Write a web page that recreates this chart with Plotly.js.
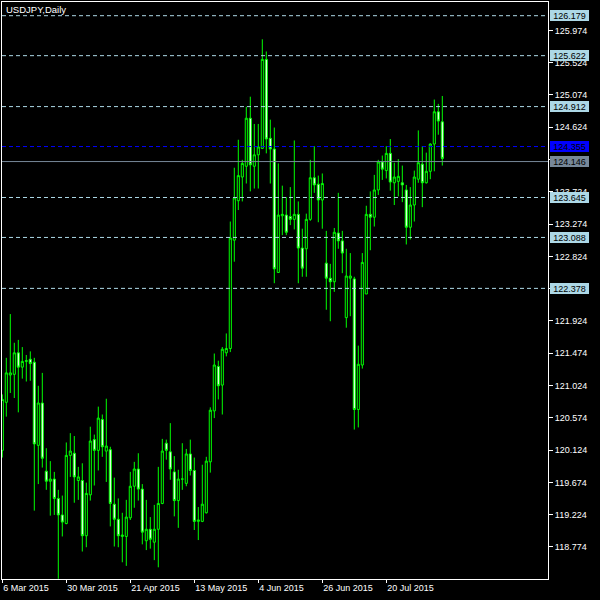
<!DOCTYPE html>
<html>
<head>
<meta charset="utf-8">
<script src="https://cdn.plot.ly/plotly-3.0.1.min.js"></script>
<style>
html,body{margin:0;padding:0;background:#000;}
#chart{width:600px;height:600px;}
</style>
</head>
<body>
<div id="chart"></div>
<script>
// Daily USDJPY bars, 6 Mar 2015 .. 7 Aug 2015 (bar index 0..110)
const dateTickIdx = [0, 16, 32, 48, 64, 80, 96];
const dateTickText = ["6 Mar 2015", "30 Mar 2015", "21 Apr 2015", "13 May 2015", "4 Jun 2015", "26 Jun 2015", "20 Jul 2015"];

const openP = [
120.12,120.79,121.17,121.18,121.48,121.28,121.36,121.39,121.35,120.19,
120.78,119.83,119.69,119.72,119.45,119.22,119.10,120.05,120.08,119.70,
119.70,118.93,119.50,120.27,120.12,120.55,120.11,120.13,119.37,119.16,
118.92,118.92,119.18,119.62,119.86,119.58,118.86,119.02,118.84,119.02,
119.38,120.22,120.10,119.82,119.42,119.72,119.66,120.07,119.84,119.13,
119.13,119.25,119.96,120.67,121.29,121.03,121.48,121.54,123.05,123.60,
123.93,124.08,124.75,124.08,124.24,124.33,125.57,124.47,124.32,122.60,
123.39,123.40,123.38,123.34,123.41,122.94,122.93,123.34,123.92,123.83,
123.61,122.73,122.52,122.47,123.15,123.04,121.97,122.52,122.51,120.69,
121.31,122.30,123.41,123.37,123.75,124.14,124.02,124.26,123.85,123.87,
123.85,123.75,123.23,123.54,123.90,124.11,123.85,124.01,124.39,124.84,
124.70];
const highP = [
120.90,121.41,122.02,121.62,121.66,121.56,121.45,121.50,121.41,121.02,
121.20,120.15,119.97,119.82,119.57,119.49,120.23,120.36,120.32,119.89,
119.94,119.67,120.45,120.34,120.73,120.62,120.84,120.17,119.74,119.45,
119.25,119.43,119.82,119.96,120.08,119.65,119.43,119.19,119.36,119.89,
120.28,120.27,120.50,120.04,119.85,120.22,120.14,120.27,120.02,119.33,
119.92,120.03,120.72,121.47,121.37,121.56,121.75,123.31,124.06,124.45,
124.17,124.91,125.05,124.67,124.67,125.85,125.68,124.73,124.62,124.12,
123.81,123.65,123.79,124.44,123.59,123.21,123.42,124.17,124.36,123.95,
123.98,123.18,122.72,123.22,123.71,123.18,122.93,122.87,122.54,121.58,
122.87,123.53,123.73,123.96,124.17,124.23,124.36,124.46,124.13,124.18,
124.09,123.82,123.79,124.02,124.58,124.36,124.27,124.40,125.01,124.95,
125.06];
const lowP = [
120.02,120.59,120.92,120.85,120.65,121.12,121.08,121.09,119.28,119.65,
119.88,119.57,119.21,119.22,118.33,118.92,119.09,119.75,119.39,119.43,
118.71,118.77,119.42,119.63,119.84,120.03,119.68,119.06,118.78,118.77,
118.56,118.51,119.15,119.32,119.42,118.81,118.73,118.75,118.59,118.49,
119.37,119.99,119.71,119.20,119.04,119.57,119.62,119.77,119.01,118.87,
119.12,119.24,119.81,120.57,120.83,120.62,121.43,121.49,122.75,123.47,
123.59,123.84,123.73,123.77,123.77,124.32,124.26,123.84,122.45,122.60,
123.12,123.12,123.26,123.20,122.45,122.54,122.54,123.32,123.71,123.30,
123.21,122.08,121.92,122.33,122.93,122.59,121.83,121.99,120.41,120.44,
121.26,122.30,122.91,123.24,123.68,123.89,123.91,123.74,123.54,123.66,
123.58,122.99,123.06,123.31,123.85,123.51,123.84,123.90,124.01,124.52,
124.09];
const closeP = [
120.83,121.20,121.20,121.48,121.28,121.36,121.37,121.33,120.21,120.78,
120.01,119.69,119.72,119.45,119.22,119.12,120.05,120.11,119.75,119.75,
118.93,119.52,120.25,120.12,120.57,120.17,120.18,119.38,119.16,118.93,
118.94,119.19,119.62,119.86,119.58,118.98,119.02,118.88,119.02,119.38,
120.11,120.12,119.86,119.42,119.72,119.72,120.07,119.84,119.13,119.15,
119.37,119.97,120.68,121.31,121.02,121.53,121.54,123.08,123.64,123.95,
124.12,124.75,124.10,124.24,124.35,125.57,124.46,124.32,122.65,123.40,
123.41,123.16,123.34,123.41,122.94,122.66,123.34,123.92,123.82,123.61,
123.84,122.52,122.47,123.16,123.04,122.87,122.55,122.55,120.69,121.32,
122.74,123.41,123.37,123.75,124.14,124.04,124.26,123.86,123.93,123.94,
123.82,123.23,123.54,123.93,124.13,123.85,124.01,124.39,124.84,124.71,
124.19];

const priceTicks = [125.974,125.524,125.074,124.624,124.174,123.724,123.274,122.824,122.374,121.924,121.474,121.024,120.574,120.124,119.674,119.224,118.774];
const hiddenTicks = [124.174, 122.374];
const levelLines = [126.179, 125.622, 124.912, 123.645, 123.088, 122.378];
const blueLevel = 124.355;
const bidLevel = 124.146;
const chartTitle = "USDJPY,Daily";

const idx = openP.map((_, i) => i);
const FONT = "Liberation Sans, Arial, sans-serif";

const trace = {
  type: "candlestick",
  x: idx,
  open: openP, high: highP, low: lowP, close: closeP,
  increasing: {line: {color: "#00FF00", width: 1}, fillcolor: "#000000"},
  decreasing: {line: {color: "#00FF00", width: 1}, fillcolor: "#FFFFFF"},
  whiskerwidth: 0,
  hoverinfo: "skip",
  showlegend: false
};

const shapes = [];
const annotations = [];
function addLevel(v, lineColor, dash, boxColor, textColor) {
  shapes.push({type: "line", xref: "paper", x0: 0, x1: 1, yref: "y", y0: v, y1: v,
    line: {color: lineColor, width: 1, dash: dash}, layer: "above"});
  annotations.push({xref: "paper", x: 1.0037, xanchor: "left", yref: "y", y: v, yanchor: "middle",
    text: v.toFixed(3), showarrow: false, bgcolor: boxColor, borderpad: 1, borderwidth: 0,
    width: 37, height: 9, align: "center",
    font: {family: FONT, size: 9, color: textColor}});
}
levelLines.forEach(v => addLevel(v, "#ADD8E6", "4px,3px", "#ADD8E6", "#000000"));
addLevel(blueLevel, "#0000FF", "4px,3px", "#0000FF", "#000000");
addLevel(bidLevel, "#778899", "solid", "#778899", "#000000");

const layout = {
  width: 600, height: 600,
  paper_bgcolor: "#000000", plot_bgcolor: "#000000",
  margin: {l: 2, r: 52, t: 2, b: 21, pad: 0},
  boxgap: 0.25,
  title: {text: chartTitle, x: 6/600, xanchor: "left", xref: "container",
          y: 1 - 10/600, yanchor: "middle", yref: "container",
          font: {family: FONT, size: 9.5, color: "#FFFFFF"}},
  xaxis: {
    range: [-0.075, 136.425], fixedrange: true,
    rangeslider: {visible: false},
    tickmode: "array", tickvals: dateTickIdx, ticktext: dateTickText,
    ticks: "outside", ticklen: 3, tickcolor: "#FFFFFF", tickwidth: 1,
    ticklabelposition: "outside right",
    showgrid: false, zeroline: false,
    showline: true, linecolor: "#FFFFFF", linewidth: 1, mirror: true,
    tickfont: {family: FONT, size: 9, color: "#FFFFFF"}
  },
  yaxis: {
    range: [118.327, 126.370], fixedrange: true, side: "right",
    tickmode: "array", tickvals: priceTicks,
    ticktext: priceTicks.map(v => hiddenTicks.includes(v) ? "" : v.toFixed(3)),
    ticks: "outside", ticklen: 4, tickcolor: "#FFFFFF", tickwidth: 1,
    showgrid: false, zeroline: false,
    showline: true, linecolor: "#FFFFFF", linewidth: 1, mirror: true,
    tickfont: {family: FONT, size: 9, color: "#FFFFFF"}
  },
  shapes: shapes,
  annotations: annotations,
  showlegend: false
};

Plotly.newPlot("chart", [trace], layout, {staticPlot: true, displayModeBar: false});
</script>
</body>
</html>
